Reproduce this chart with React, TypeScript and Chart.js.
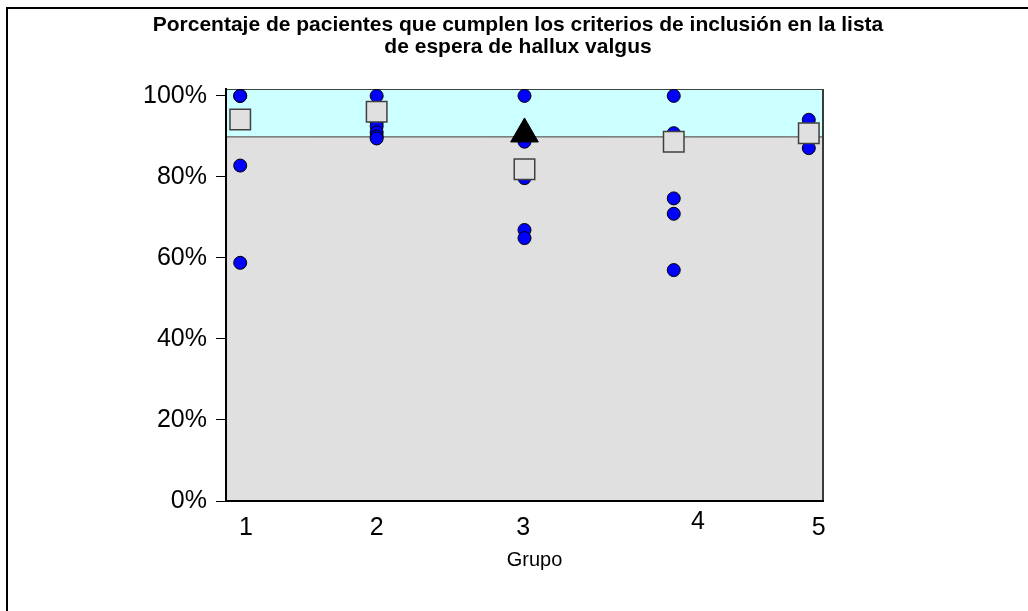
import { useEffect, useRef } from 'react';
import { Chart, registerables } from 'chart.js';

Chart.register(...registerables);

const FONT = '"Liberation Sans", Arial, sans-serif';

const titleLines = [
  'Porcentaje de pacientes que cumplen los criterios de inclusión en la lista',
  'de espera de hallux valgus',
];
const xAxisTitle = 'Grupo';

const groupLabels = ['1', '2', '3', '4', '5'];
const groupX = [1, 1.96, 3, 4.05, 5];
const labelX = [1.04, 1.96, 2.99, 4.22, 5.07];

const group1 = [100, 100, 82.8, 58.8];
const group2 = [100, 93.5, 92.5, 91, 90, 89.5];
const group3 = [100, 88.7, 79.7, 66.9, 64.9];
const group4 = [100, 90.8, 74.7, 70.9, 57.0];
const group5 = [94.1, 87.1];

const groupMeans = [94.2, 96.1, 81.9, 88.7, 90.8];
const highlightGroup = 3;
const highlightValue = 90.6;
const targetThreshold = 90;
const yMax = 101.7;

const allGroups = [group1, group2, group3, group4, group5];

const decorPlugin = {
  id: 'decor',
  beforeDraw(chart: any) {
    const { ctx, chartArea: a, scales } = chart;
    const y = scales.y;
    ctx.save();
    ctx.fillStyle = '#E0E0E0';
    ctx.fillRect(a.left, a.top, a.right - a.left, a.bottom - a.top);
    const yt = y.getPixelForValue(targetThreshold);
    ctx.fillStyle = '#CCFFFF';
    ctx.fillRect(a.left, a.top, a.right - a.left, yt - a.top);
    ctx.strokeStyle = '#404040';
    ctx.lineWidth = 1;
    ctx.beginPath();
    ctx.moveTo(a.left, yt + 0.5);
    ctx.lineTo(a.right, yt + 0.5);
    ctx.moveTo(a.left, a.top + 0.5);
    ctx.lineTo(a.right, a.top + 0.5);
    ctx.stroke();
    ctx.lineWidth = 2;
    ctx.strokeStyle = '#3a3a3a';
    ctx.beginPath();
    ctx.moveTo(a.right, a.top);
    ctx.lineTo(a.right, a.bottom + 1);
    ctx.stroke();
    ctx.strokeStyle = '#000';
    ctx.beginPath();
    ctx.moveTo(a.left, a.bottom);
    ctx.lineTo(a.right + 1, a.bottom);
    ctx.stroke();
    ctx.restore();
  },
  afterDraw(chart: any) {
    const { ctx, chartArea: a, scales } = chart;
    const x = scales.x;
    ctx.save();
    ctx.fillStyle = '#000';
    ctx.textAlign = 'center';
    ctx.textBaseline = 'middle';
    // title
    ctx.font = `bold 21px ${FONT}`;
    titleLines.forEach((t, i) => ctx.fillText(t, 518, 25 + i * 22));
    // x tick labels
    ctx.font = `25px ${FONT}`;
    groupLabels.forEach((g, i) => {
      const lift = i === 3 ? 6 : 0;
      ctx.fillText(g, x.getPixelForValue(labelX[i]), a.bottom + 27 - lift);
    });
    ctx.font = `20px ${FONT}`;
    ctx.fillText(xAxisTitle, (a.left + a.right) / 2 + 10, a.bottom + 59);
    // outer frame
    ctx.strokeStyle = '#000';
    ctx.lineWidth = 2;
    ctx.beginPath();
    ctx.moveTo(1028, 8);
    ctx.lineTo(7, 8);
    ctx.lineTo(7, 611);
    ctx.stroke();
    ctx.restore();
  },
};

export default function App() {
  const ref = useRef<HTMLCanvasElement | null>(null);
  useEffect(() => {
    if (!ref.current) return;
    const circles: { x: number; y: number }[] = [];
    allGroups.forEach((vals, i) => vals.forEach((v) => circles.push({ x: groupX[i], y: v })));
    const means = groupMeans.map((m, i) => ({ x: groupX[i], y: m }));
    const highlight = [{ x: groupX[highlightGroup - 1], y: highlightValue }];
    const chart = new Chart(ref.current, {
      type: 'scatter',
      data: {
        datasets: [
          {
            label: 'Objetivo',
            data: highlight,
            pointStyle: 'triangle',
            pointRadius: 16,
            backgroundColor: '#000',
            borderColor: '#000',
            borderWidth: 1,
            order: 0,
          },
          {
            label: 'Media',
            data: means,
            pointStyle: 'rect',
            pointRadius: 14.5,
            backgroundColor: '#E0E0E0',
            borderColor: '#404040',
            borderWidth: 1.5,
            order: 1,
          },
          {
            label: 'Pacientes',
            data: circles,
            pointStyle: 'circle',
            pointRadius: 6.5,
            backgroundColor: '#0000FF',
            borderColor: '#000',
            borderWidth: 1,
            order: 2,
          },
        ],
      },
      options: {
        animation: false,
        responsive: false,
        maintainAspectRatio: false,
        layout: { padding: { left: 0, right: 205, top: 89, bottom: 110 } },
        plugins: {
          legend: { display: false },
          tooltip: { enabled: false },
          title: { display: false },
        },
        scales: {
          x: { type: 'linear', min: 0.9, max: 5.1, display: false },
          y: {
            type: 'linear',
            min: 0,
            max: yMax,
            afterFit: (s: any) => {
              s.width = 226;
            },
            grid: { drawOnChartArea: false, drawTicks: true, tickLength: 10, color: '#000', lineWidth: 1 },
            border: { display: true, color: '#000', width: 2 },
            ticks: {
              stepSize: 20,
              includeBounds: false,
              padding: 9,
              color: '#000',
              font: { family: FONT, size: 25 },
              callback: (v: any) => `${v}%`,
            },
          },
        },
      },
      plugins: [decorPlugin],
    });
    return () => chart.destroy();
  }, []);
  return (
    <div style={{ position: 'absolute', left: 0, top: 0, width: 1028, height: 611 }}>
      <canvas ref={ref} width={1028} height={611} style={{ display: 'block' }} />
    </div>
  );
}
